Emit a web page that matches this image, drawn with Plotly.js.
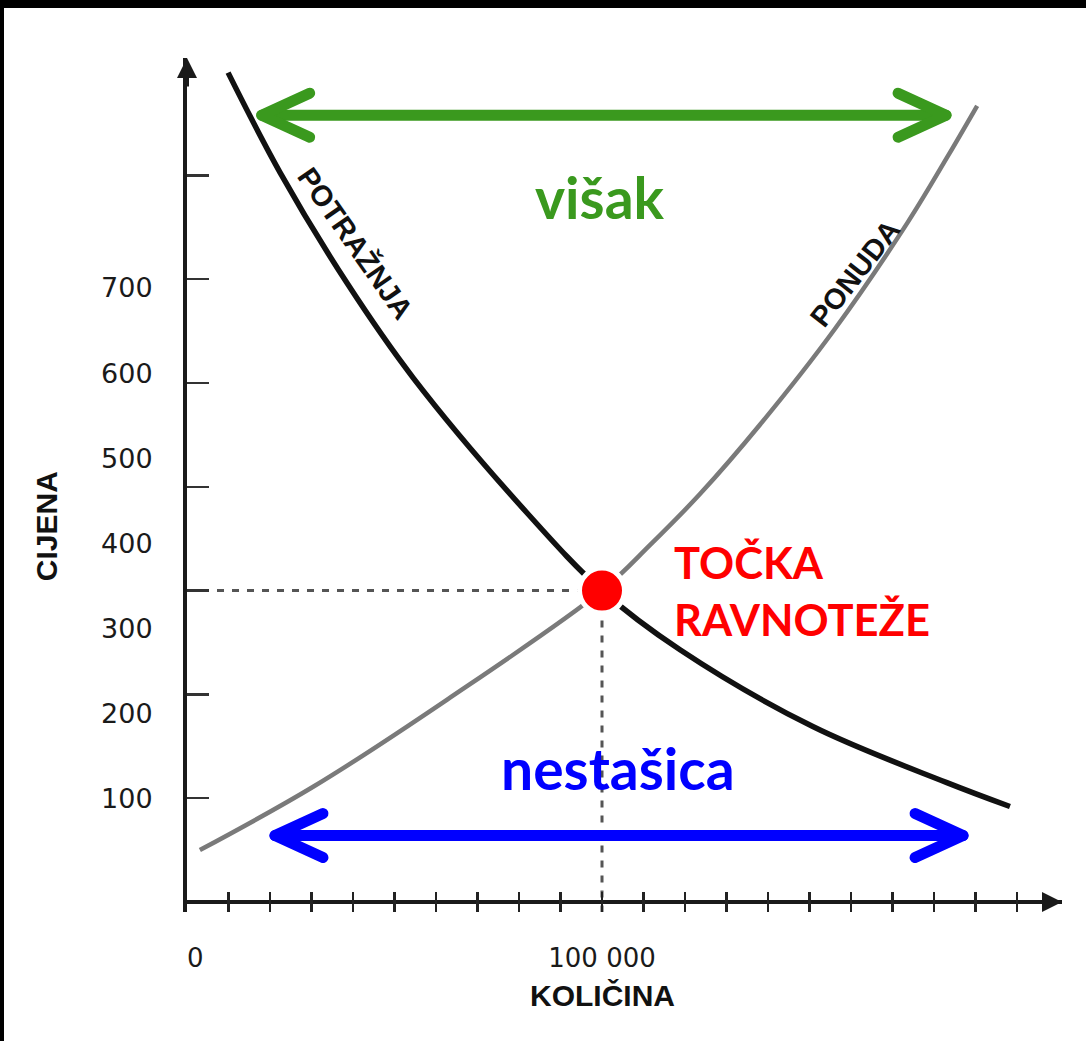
<!DOCTYPE html>
<html><head><meta charset="utf-8">
<script src="https://cdn.plot.ly/plotly-3.0.1.min.js"></script>
<style>
html,body{margin:0;padding:0;background:#000;overflow:hidden;}
#chart{position:absolute;left:4px;top:8px;width:1082px;height:1033px;background:#fff;}
.shapelayer path[style*="stroke-width: 11px"]{stroke-linecap:round;stroke-linejoin:round;}
</style></head><body><div id="chart"></div>
<script>
// ---- data (quantity, price) ----
const demandQty   = [9900, 22400, 38600, 54500, 81900, 100000, 118800, 150800, 183100, 198300];
const demandPrice = [ 799,   703,   596,   505,   375,    300,    243,    169,    115,     92];
const supplyQty   = [3100, 30400, 62700, 100000, 111600, 123600, 138100, 156100, 173700, 183400, 190400];
const supplyPrice = [  50,   111,   195,    300,    344,    393,    460,    552,    655,    719,    767];
const equilibriumQty = [100000];
const equilibriumPrice = [300];
const priceTickVals = [100, 200, 300, 400, 500, 600, 700];
const priceTickText = ['100', '200', '300', '400', '500', '600', '700'];
const qtyTickVals = [0, 10000, 20000, 30000, 40000, 50000, 60000, 70000, 80000, 90000, 100000,
                     110000, 120000, 130000, 140000, 150000, 160000, 170000, 180000, 190000, 200000];
const qtyTickText = ['\u00a0\u00a00', '', '', '', '', '', '', '', '', '', '100 000',
                     '', '', '', '', '', '', '', '', '', ''];
const surplusQty = [18000, 182900];   // "višak" arrow span
const surplusPrice = 758;
const shortageQty = [21200, 187000];  // "nestašica" arrow span
const shortagePrice = 64;

// ---- scales ----
const X_RANGE = [0, 210843];
const Y_RANGE = [-9.63, 813.1];       // data price scale (ticks)
const Y_LABEL_RANGE = [-32.7, 970.0]; // scale on which the printed labels sit

const green = '#3a991e', blue = '#0000ff', red = '#ff0000';
const axisCol = '#1a1a1a';

const traces = [
  {x: demandQty, y: demandPrice, type: 'scatter', mode: 'lines',
   line: {color: '#111', width: 5.5, shape: 'spline', smoothing: 1}, hoverinfo: 'skip'},
  {x: supplyQty, y: supplyPrice, type: 'scatter', mode: 'lines',
   line: {color: '#7a7a7a', width: 4.5, shape: 'spline', smoothing: 1}, hoverinfo: 'skip'},
  {x: equilibriumQty, y: equilibriumPrice, type: 'scatter', mode: 'markers',
   marker: {color: red, size: 45, line: {color: '#fff', width: 5}}, hoverinfo: 'skip', cliponaxis: false},
  {x: [], y: [], type: 'scatter', yaxis: 'y2', hoverinfo: 'skip'}
];

function chevron(q, p, dir, color) {
  const a = 48 * dir;
  return {type: 'path', xref: 'x', yref: 'y', xsizemode: 'pixel', ysizemode: 'pixel',
    xanchor: q, yanchor: p, layer: 'above',
    path: `M${a},22 L0,0 L${a},-22`, line: {color: color, width: 11}};
}

const shapes = [
  {type: 'line', xref: 'x', yref: 'y', x0: 0, x1: equilibriumQty[0], y0: equilibriumPrice[0], y1: equilibriumPrice[0],
   layer: 'below', line: {color: '#555', width: 3, dash: '7px,8px'}},
  {type: 'line', xref: 'x', yref: 'y', x0: equilibriumQty[0], x1: equilibriumQty[0], y0: equilibriumPrice[0], y1: Y_RANGE[0],
   layer: 'below', line: {color: '#555', width: 3, dash: '7px,8px'}},
  {type: 'line', xref: 'x', yref: 'y', x0: surplusQty[0], x1: surplusQty[1], y0: surplusPrice, y1: surplusPrice,
   layer: 'above', line: {color: green, width: 11}},
  chevron(surplusQty[0], surplusPrice, 1, green),
  chevron(surplusQty[1], surplusPrice, -1, green),
  {type: 'line', xref: 'x', yref: 'y', x0: shortageQty[0], x1: shortageQty[1], y0: shortagePrice, y1: shortagePrice,
   layer: 'above', line: {color: blue, width: 11}},
  chevron(shortageQty[0], shortagePrice, 1, blue),
  chevron(shortageQty[1], shortagePrice, -1, blue)
];

const bigFont = 'Lato, "Open Sans", sans-serif';
const condFont = '"Liberation Sans", Arial, sans-serif';

const annotations = [
  // axis arrowheads
  {xref: 'paper', yref: 'paper', x: 0, y: 1, ax: 0, ay: 30, text: '', showarrow: true,
   arrowhead: 2, arrowsize: 1, arrowwidth: 4, arrowcolor: axisCol, standoff: 0},
  {xref: 'paper', yref: 'y', x: 1, y: 0, ax: -30, ay: 0, text: '', showarrow: true,
   arrowhead: 2, arrowsize: 1, arrowwidth: 4, arrowcolor: axisCol, standoff: 0},
  {xref: 'x', yref: 'y', x: 99500, y: 679, text: 'višak', showarrow: false,
   font: {family: bigFont, size: 57, color: green, weight: 'bold'}},
  {xref: 'x', yref: 'y', x: 103900, y: 129, text: 'nestašica', showarrow: false,
   font: {family: bigFont, size: 57, color: blue, weight: 'bold'}},
  {xref: 'x', yref: 'y', x: 116900, y: 300, text: 'TOČKA<br>RAVNOTEŽE', showarrow: false,
   xanchor: 'left', align: 'left', font: {family: bigFont, size: 43.5, color: red, weight: 'bold'}},
  {xref: 'x', yref: 'y', x: 40500, y: 635, text: 'POTRAŽNJA', showarrow: false, textangle: 55,
   font: {family: condFont, size: 29, color: '#111', weight: 'bold'}},
  {xref: 'x', yref: 'y', x: 161000, y: 606, text: 'PONUDA', showarrow: false, textangle: -52,
   font: {family: condFont, size: 29, color: '#111', weight: 'bold'}},
  {xref: 'paper', yref: 'y', x: -0.1612, y: 362, xanchor: 'center', yanchor: 'middle',
   text: 'CIJENA', showarrow: false, textangle: -90,
   font: {family: condFont, size: 30, color: '#111', weight: 'bold'}},
  {xref: 'x', yref: 'paper', x: 100000, y: -0.0972, xanchor: 'center', yanchor: 'middle',
   text: 'KOLIČINA', showarrow: false,
   font: {family: condFont, size: 30, color: '#111', weight: 'bold'}}
];

const layout = {
  width: 1082, height: 1033,
  margin: {l: 183, r: 24, t: 50, b: 129, pad: 0},
  paper_bgcolor: '#fff', plot_bgcolor: 'rgba(0,0,0,0)',
  showlegend: false,
  xaxis: {range: X_RANGE, showgrid: false, zeroline: false, showline: false,
    tickmode: 'array', tickvals: qtyTickVals, ticktext: qtyTickText,
    ticks: 'inside', ticklen: 20, tickwidth: 2.5, tickcolor: '#222',
    ticklabelstandoff: 28,
    tickfont: {family: '"DejaVu Sans", sans-serif', size: 26, color: '#1a1a1a'}},
  yaxis: {range: Y_RANGE, showgrid: false, zeroline: true, zerolinecolor: axisCol, zerolinewidth: 4,
    showline: true, linecolor: axisCol, linewidth: 4,
    tickmode: 'array', tickvals: priceTickVals, showticklabels: false,
    ticks: 'inside', ticklen: 22, tickwidth: 2.5, tickcolor: '#333'},
  yaxis2: {range: Y_LABEL_RANGE, overlaying: 'y', side: 'left', showgrid: false, zeroline: false, showline: false,
    tickmode: 'array', tickvals: priceTickVals, ticktext: priceTickText,
    ticks: 'outside', ticklen: 28, tickcolor: 'rgba(0,0,0,0)',
    tickfont: {family: '"DejaVu Sans", sans-serif', size: 27, color: '#1a1a1a'}},
  shapes: shapes,
  annotations: annotations
};

Plotly.newPlot('chart', traces, layout, {displayModeBar: false, staticPlot: true});
</script></body></html>
